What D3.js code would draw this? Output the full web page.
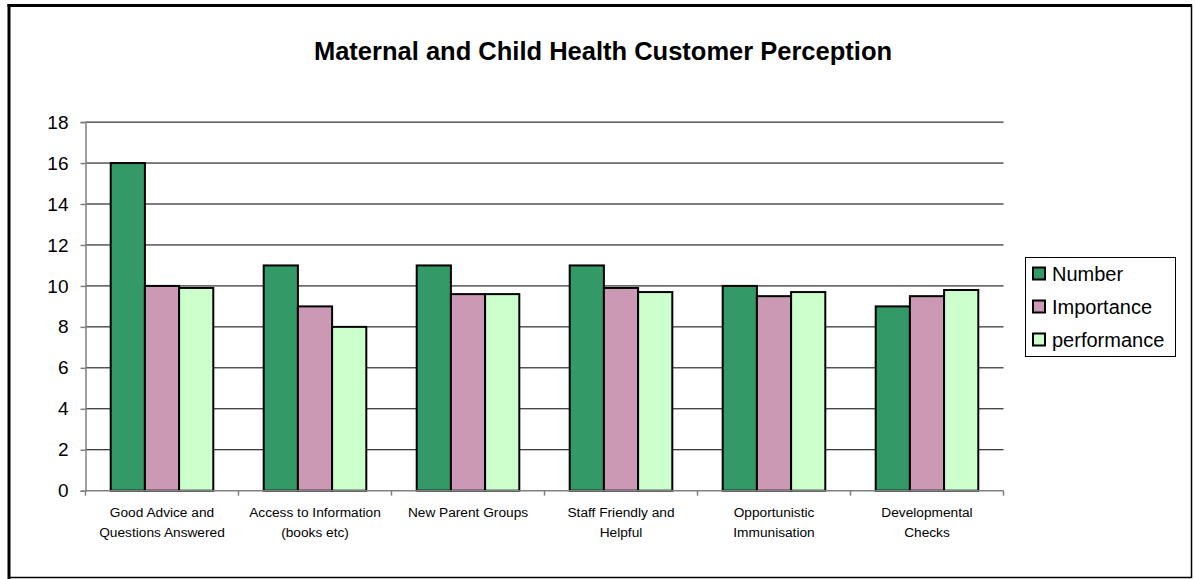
<!DOCTYPE html>
<html>
<head>
<meta charset="utf-8">
<script src="https://cdn.jsdelivr.net/npm/d3@7"></script>
<style>
  html, body { margin: 0; padding: 0; background: #fff; }
  svg { display: block; }
  text { font-family: "Liberation Sans", Arial, sans-serif; }
</style>
</head>
<body>
<svg id="chart" width="1195" height="579"></svg>
<script>
const categories = [
  ["Good Advice and", "Questions Answered"],
  ["Access to Information", "(books etc)"],
  ["New Parent Groups"],
  ["Staff Friendly and", "Helpful"],
  ["Opportunistic", "Immunisation"],
  ["Developmental", "Checks"]
];
const seriesNames = ["Number", "Importance", "performance"];
const numberValues = [16, 11, 11, 11, 10, 9];
const importanceValues = [10, 9, 9.6, 9.9, 9.5, 9.5];
const performanceValues = [9.9, 8, 9.6, 9.7, 9.7, 9.8];
const seriesColors = ["#339966", "#CC99B5", "#CCFFCC"];
const yTicks = [0, 2, 4, 6, 8, 10, 12, 14, 16, 18];
const title = "Maternal and Child Health Customer Perception";

const seriesValues = [numberValues, importanceValues, performanceValues];
const svg = d3.select("#chart");

// outer border
svg.append("rect").attr("x", 9).attr("y", 5.5).attr("width", 1182.5).attr("height", 572)
  .attr("fill", "#fff").attr("stroke", "#000").attr("stroke-width", 1.5);
svg.append("line").attr("x1", 9).attr("x2", 9).attr("y1", 4).attr("y2", 579).attr("stroke", "#000").attr("stroke-width", 3);
svg.append("line").attr("x1", 7.5).attr("x2", 1192).attr("y1", 5.5).attr("y2", 5.5).attr("stroke", "#000").attr("stroke-width", 3);

const plot = { left: 85.5, right: 1003.5, top: 122.1, bottom: 490.7 };
const catIdx = categories.map((d, i) => i);

const x0 = d3.scaleBand().domain(catIdx).range([plot.left, plot.right]).paddingInner(0).paddingOuter(0);
const groupPad = 25.2;
const x1 = d3.scaleBand().domain([0, 1, 2]).range([groupPad, x0.bandwidth() - groupPad]).padding(0);
const y = d3.scaleLinear().domain([0, 18]).range([plot.bottom, plot.top]);

// title
svg.append("text").attr("x", 603).attr("y", 60).attr("text-anchor", "middle")
  .attr("font-size", 25.5).attr("font-weight", "bold").text(title);

// gridlines
svg.append("g").selectAll("line").data(yTicks.filter(t => t > 0)).join("line")
  .attr("x1", plot.left).attr("x2", plot.right)
  .attr("y1", d => y(d)).attr("y2", d => y(d))
  .attr("stroke", "#000").attr("stroke-width", 1);

// y axis
const yAxis = d3.axisLeft(y).tickValues(yTicks).tickSize(5).tickPadding(12);
const gy = svg.append("g").attr("transform", `translate(${plot.left},0)`).call(yAxis);
gy.select(".domain").attr("stroke", "#808080").attr("stroke-width", 1.5);
gy.selectAll(".tick line").attr("stroke", "#808080").attr("stroke-width", 1.5);
gy.selectAll(".tick text").attr("font-size", 19).attr("fill", "#000")
  .attr("font-family", '"Liberation Sans", Arial, sans-serif');

// bars
const groups = svg.append("g").selectAll("g").data(catIdx).join("g")
  .attr("transform", i => `translate(${x0(i)},0)`);
groups.selectAll("rect").data(i => seriesValues.map((vals, s) => ({ s, v: vals[i] }))).join("rect")
  .attr("x", d => x1(d.s))
  .attr("width", x1.bandwidth())
  .attr("y", d => y(d.v))
  .attr("height", d => y(0) - y(d.v))
  .attr("fill", d => seriesColors[d.s])
  .attr("stroke", "#000").attr("stroke-width", 2);

// x axis
const boundaryScale = d3.scaleLinear().domain([0, categories.length]).range([plot.left, plot.right]);
const gx = svg.append("g");
gx.append("line").attr("x1", plot.left).attr("x2", plot.right).attr("y1", y(0)).attr("y2", y(0))
  .attr("stroke", "#808080").attr("stroke-width", 1.5);
gx.selectAll("line.tk").data(d3.range(categories.length + 1)).join("line").attr("class", "tk")
  .attr("x1", d => boundaryScale(d)).attr("x2", d => boundaryScale(d))
  .attr("y1", y(0)).attr("y2", y(0) + 5)
  .attr("stroke", "#808080").attr("stroke-width", 1.5);
const labels = gx.selectAll("text.cl").data(catIdx).join("text").attr("class", "cl")
  .attr("x", i => x0(i) + x0.bandwidth() / 2)
  .attr("y", 517)
  .attr("text-anchor", "middle").attr("font-size", 13.7).attr("fill", "#000");
labels.selectAll("tspan").data(i => categories[i].map(t => ({ t, i }))).join("tspan")
  .attr("x", d => x0(d.i) + x0.bandwidth() / 2)
  .attr("dy", (d, k) => k === 0 ? 0 : 20)
  .text(d => d.t);

// legend
const lg = svg.append("g");
lg.append("rect").attr("x", 1025.5).attr("y", 257.5).attr("width", 150).attr("height", 99)
  .attr("fill", "#fff").attr("stroke", "#000").attr("stroke-width", 1);
const items = lg.selectAll("g").data(seriesNames).join("g")
  .attr("transform", (d, i) => `translate(1033, ${273.5 + i * 33})`);
items.append("rect").attr("x", 0).attr("y", -6).attr("width", 12).attr("height", 12)
  .attr("fill", (d, i) => seriesColors[i]).attr("stroke", "#000").attr("stroke-width", 2);
items.append("text").attr("x", 19).attr("y", 7).attr("font-size", 20).attr("fill", "#000").text(d => d);
</script>
</body>
</html>
